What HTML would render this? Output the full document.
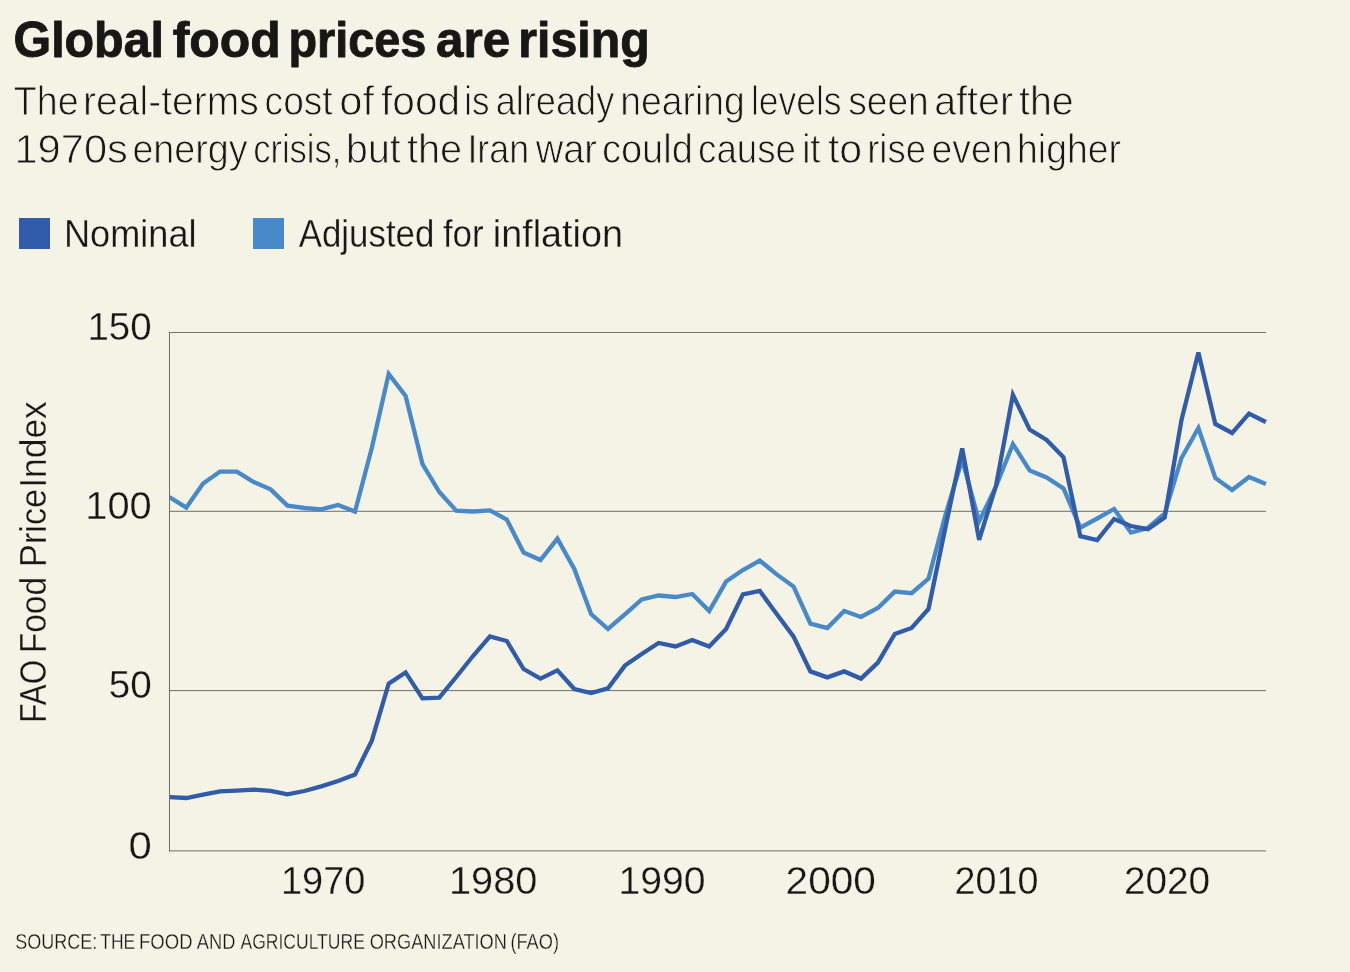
<!DOCTYPE html>
<html lang="en"><head><meta charset="utf-8"><title>Global food prices are rising</title>
<style>
html,body{margin:0;padding:0;background:#f5f3e6;}
body{width:1350px;height:972px;overflow:hidden;font-family:"Liberation Sans",sans-serif;}
svg{display:block;position:absolute;left:0;top:0;}
text{font-family:"Liberation Sans",sans-serif;fill:#181715;}
.t{font-weight:700;font-size:50px;stroke:#181715;stroke-width:0.9px;stroke-linejoin:round;}
.s{font-size:41.5px;stroke:#f5f3e6;stroke-width:0.9px;}
.l{font-size:38px;stroke:#f5f3e6;stroke-width:0.3px;}
.a{font-size:38px;stroke:#f5f3e6;stroke-width:0.3px;}
.yt{font-size:37.5px;}
.src{font-size:22px;stroke:#f5f3e6;stroke-width:0.3px;}
</style></head><body>
<svg width="1350" height="972" viewBox="0 0 1350 972">
<rect width="1350" height="972" fill="#f5f3e6"/>
<text class="t" y="56.9"><tspan x="13.50" textLength="150.52" lengthAdjust="spacingAndGlyphs">Global</tspan> <tspan x="172.70" textLength="108.12" lengthAdjust="spacingAndGlyphs">food</tspan> <tspan x="288.38" textLength="138.02" lengthAdjust="spacingAndGlyphs">prices</tspan> <tspan x="436.09" textLength="74.15" lengthAdjust="spacingAndGlyphs">are</tspan> <tspan x="518.30" textLength="131.42" lengthAdjust="spacingAndGlyphs">rising</tspan></text>
<text class="s" y="115.4"><tspan x="13.84" textLength="64.79" lengthAdjust="spacingAndGlyphs">The</tspan> <tspan x="83.04" textLength="175.78" lengthAdjust="spacingAndGlyphs">real-terms</tspan> <tspan x="264.62" textLength="68.02" lengthAdjust="spacingAndGlyphs">cost</tspan> <tspan x="339.28" textLength="34.73" lengthAdjust="spacingAndGlyphs">of</tspan> <tspan x="381.05" textLength="78.98" lengthAdjust="spacingAndGlyphs">food</tspan> <tspan x="464.35" textLength="25.24" lengthAdjust="spacingAndGlyphs">is</tspan> <tspan x="495.67" textLength="118.62" lengthAdjust="spacingAndGlyphs">already</tspan> <tspan x="620.17" textLength="124.61" lengthAdjust="spacingAndGlyphs">nearing</tspan> <tspan x="750.91" textLength="90.69" lengthAdjust="spacingAndGlyphs">levels</tspan> <tspan x="848.18" textLength="80.59" lengthAdjust="spacingAndGlyphs">seen</tspan> <tspan x="934.30" textLength="78.76" lengthAdjust="spacingAndGlyphs">after</tspan> <tspan x="1018.98" textLength="54.72" lengthAdjust="spacingAndGlyphs">the</tspan></text>
<text class="s" y="163"><tspan x="14.43" textLength="113.47" lengthAdjust="spacingAndGlyphs">1970s</tspan> <tspan x="132.39" textLength="115.33" lengthAdjust="spacingAndGlyphs">energy</tspan> <tspan x="253.16" textLength="88.25" lengthAdjust="spacingAndGlyphs">crisis,</tspan> <tspan x="346.12" textLength="54.50" lengthAdjust="spacingAndGlyphs">but</tspan> <tspan x="406.97" textLength="55.15" lengthAdjust="spacingAndGlyphs">the</tspan> <tspan x="467.39" textLength="61.66" lengthAdjust="spacingAndGlyphs">Iran</tspan> <tspan x="535.68" textLength="61.35" lengthAdjust="spacingAndGlyphs">war</tspan> <tspan x="601.97" textLength="90.84" lengthAdjust="spacingAndGlyphs">could</tspan> <tspan x="698.04" textLength="97.95" lengthAdjust="spacingAndGlyphs">cause</tspan> <tspan x="802.21" textLength="18.37" lengthAdjust="spacingAndGlyphs">it</tspan> <tspan x="827.94" textLength="34.21" lengthAdjust="spacingAndGlyphs">to</tspan> <tspan x="867.23" textLength="58.76" lengthAdjust="spacingAndGlyphs">rise</tspan> <tspan x="931.61" textLength="80.76" lengthAdjust="spacingAndGlyphs">even</tspan> <tspan x="1017.07" textLength="103.89" lengthAdjust="spacingAndGlyphs">higher</tspan></text>
<rect x="19" y="218" width="31" height="31" fill="#305caa"/>
<rect x="253" y="218" width="31" height="31" fill="#4789c9"/>
<text class="l" y="247"><tspan x="63.97" textLength="132.55" lengthAdjust="spacingAndGlyphs">Nominal</tspan> <tspan x="298.71" textLength="135.66" lengthAdjust="spacingAndGlyphs">Adjusted</tspan> <tspan x="442.88" textLength="40.77" lengthAdjust="spacingAndGlyphs">for</tspan> <tspan x="492.80" textLength="130.14" lengthAdjust="spacingAndGlyphs">inflation</tspan></text>
<g stroke="#716f66" stroke-width="1" fill="none">
<line x1="168.9" y1="332.5" x2="1266" y2="332.5"/>
<line x1="168.9" y1="511.3" x2="1266" y2="511.3"/>
<line x1="168.9" y1="690.6" x2="1266" y2="690.6"/>
<line x1="168.9" y1="850.9" x2="1266" y2="850.9"/>
<line x1="169.5" y1="332" x2="169.5" y2="851.4"/>
</g>
<text class="a" y="339.6"><tspan x="87.41" textLength="64.22" lengthAdjust="spacingAndGlyphs">150</tspan></text>
<text class="a" y="519"><tspan x="85.31" textLength="66.38" lengthAdjust="spacingAndGlyphs">100</tspan></text>
<text class="a" y="697.9"><tspan x="108.70" textLength="42.99" lengthAdjust="spacingAndGlyphs">50</tspan></text>
<text class="a" y="858.7"><tspan x="128.52" textLength="23.27" lengthAdjust="spacingAndGlyphs">0</tspan></text>
<text class="a" y="894.4"><tspan x="281.00" textLength="84.40" lengthAdjust="spacingAndGlyphs">1970</tspan> <tspan x="449.07" textLength="88.26" lengthAdjust="spacingAndGlyphs">1980</tspan> <tspan x="618.46" textLength="87.05" lengthAdjust="spacingAndGlyphs">1990</tspan> <tspan x="785.61" textLength="90.15" lengthAdjust="spacingAndGlyphs">2000</tspan> <tspan x="954.62" textLength="83.88" lengthAdjust="spacingAndGlyphs">2010</tspan> <tspan x="1123.91" textLength="86.23" lengthAdjust="spacingAndGlyphs">2020</tspan></text>
<text class="a yt" y="0" transform="translate(45.6 720) rotate(-90)"><tspan x="-2.63" textLength="62.71" lengthAdjust="spacingAndGlyphs">FAO</tspan> <tspan x="66.73" textLength="76.41" lengthAdjust="spacingAndGlyphs">Food</tspan> <tspan x="153.12" textLength="78.05" lengthAdjust="spacingAndGlyphs">Price</tspan> <tspan x="232.28" textLength="86.48" lengthAdjust="spacingAndGlyphs">Index</tspan></text>
<clipPath id="cp"><rect x="170" y="300" width="1110" height="560"/></clipPath>
<g clip-path="url(#cp)">
<polyline points="169.4,497.0 186.3,507.6 203.1,483.6 220.0,471.6 236.9,471.6 253.7,482.0 270.6,489.4 287.5,505.6 304.4,508.0 321.2,509.4 338.1,505.0 355.0,511.6 371.8,448.0 388.7,374.0 405.6,396.0 422.4,463.8 439.3,492.0 456.2,510.6 473.0,511.5 489.9,510.4 506.8,519.6 523.6,552.5 540.5,560.0 557.4,538.6 574.3,569.0 591.1,614.0 608.0,629.0 624.9,614.4 641.7,599.4 658.6,595.5 675.5,597.0 692.3,594.0 709.2,611.0 726.1,581.6 742.9,570.0 759.8,560.6 776.7,574.4 793.6,586.6 810.4,623.6 827.3,628.0 844.2,611.0 861.0,617.0 877.9,608.0 894.8,591.6 911.6,593.2 928.5,578.6 945.4,515.0 962.2,459.6 979.1,521.5 996.0,486.5 1012.9,444.1 1029.7,470.5 1046.6,477.4 1063.5,488.5 1080.3,527.7 1097.2,518.5 1114.1,509.0 1130.9,532.5 1147.8,528.0 1164.7,513.5 1181.5,458.0 1198.4,428.0 1215.3,478.0 1232.1,490.0 1249.0,477.0 1265.9,484.0" fill="none" stroke="#4789c9" stroke-width="4.3" stroke-linejoin="miter" stroke-linecap="butt"/>
<polyline points="169.4,797.0 186.3,798.0 203.1,794.6 220.0,791.4 236.9,790.6 253.7,789.6 270.6,790.8 287.5,794.4 304.4,791.0 321.2,786.4 338.1,781.0 355.0,774.6 371.8,740.6 388.7,683.6 405.6,672.4 422.4,698.4 439.3,697.6 456.2,677.0 473.0,656.0 489.9,636.4 506.8,641.0 523.6,669.0 540.5,678.6 557.4,670.4 574.3,689.0 591.1,693.0 608.0,688.4 624.9,665.6 641.7,654.0 658.6,643.0 675.5,646.4 692.3,640.0 709.2,646.4 726.1,629.0 742.9,594.4 759.8,591.0 776.7,614.0 793.6,636.6 810.4,671.4 827.3,677.4 844.2,671.4 861.0,678.6 877.9,662.6 894.8,634.0 911.6,628.0 928.5,609.0 945.4,527.5 962.2,448.4 979.1,539.8 996.0,485.8 1012.9,394.8 1029.7,429.6 1046.6,440.0 1063.5,457.2 1080.3,536.2 1097.2,540.0 1114.1,519.0 1130.9,526.0 1147.8,529.2 1164.7,517.4 1181.5,420.0 1198.4,352.4 1215.3,424.0 1232.1,433.0 1249.0,413.6 1265.9,422.0" fill="none" stroke="#305caa" stroke-width="4.3" stroke-linejoin="miter" stroke-linecap="butt"/>
</g>
<text class="src" y="948.9"><tspan x="15.32" textLength="82.00" lengthAdjust="spacingAndGlyphs">SOURCE:</tspan> <tspan x="100.18" textLength="35.09" lengthAdjust="spacingAndGlyphs">THE</tspan> <tspan x="139.04" textLength="53.49" lengthAdjust="spacingAndGlyphs">FOOD</tspan> <tspan x="196.78" textLength="38.60" lengthAdjust="spacingAndGlyphs">AND</tspan> <tspan x="240.53" textLength="124.31" lengthAdjust="spacingAndGlyphs">AGRICULTURE</tspan> <tspan x="369.71" textLength="137.22" lengthAdjust="spacingAndGlyphs">ORGANIZATION</tspan> <tspan x="510.38" textLength="48.61" lengthAdjust="spacingAndGlyphs">(FAO)</tspan></text>
</svg>
</body></html>
